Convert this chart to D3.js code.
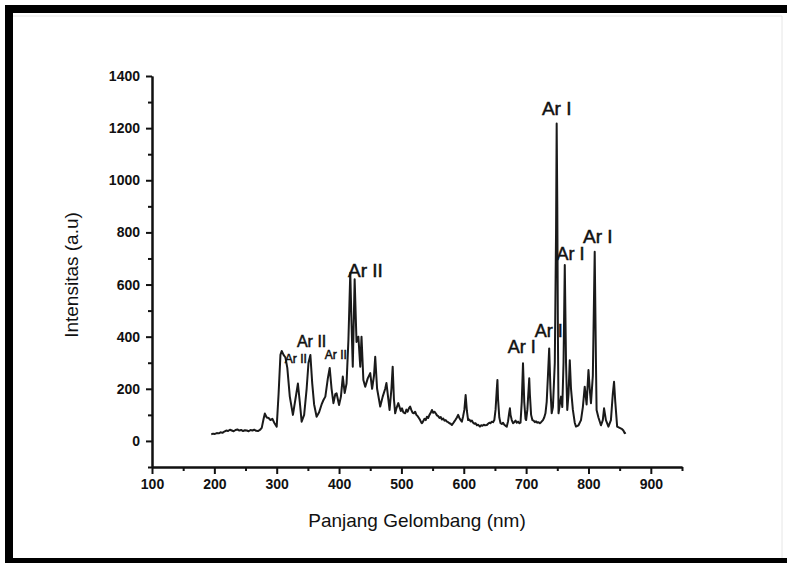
<!DOCTYPE html>
<html>
<head>
<meta charset="utf-8">
<script src="https://cdn.jsdelivr.net/npm/d3@7/dist/d3.min.js"></script>
<style>
  html, body { margin: 0; padding: 0; background: #fff; }
  svg { display: block; }
  text { font-family: Arial, "Liberation Sans", Helvetica, sans-serif; fill: #111; }
</style>
</head>
<body>
<svg id="chart" width="787" height="563"></svg>
<script>
// ---- Data ----
const wavelength = [195,198,201,204,207,210,213,216,219,222,225,228,231,234,237,240,243,246,249,252,255,258,261,264,267,270,273,276,279,281,284,287,290,293,296,300,303,306,308,311,314,317,321,326,330,334,337,340,344,348,351,354,357,360,364,368,372,375,378,382,385,388,391,394,396,400,403,406,409,412,415,418,420,422,425,428,431,434,436,439,442,446,450,453,456,458,461,464,466,470,474,476,479,481,484,486,488,490,492,495,497,499,501,503,506,508,510,512,514,516,518,520,522,524,526,528,530,532,533,535,537,539,541,543,545,547,549,551,553,555,557,559,561,563,565,567,569,571,573,575,577,579,581,583,585,587,589,591,593,595,597,599,601,603,605,607,609,611,613,615,617,619,621,623,626,628,630,632,634,637,639,641,643,645,647,649,651,653,654,655,657,659,661,663,665,667,669,671,673,674,675,677,679,681,683,685,687,689,691,693,695,697,699,700,702,704,705,706,708,710,712,714,716,718,720,722,724,727,729,731,733,735,737,739,741,743,746,748,749,750,751,752,754,756,758,760,762,764,766,768,770,772,775,778,780,784,788,791,794,797,800,802,804,807,810,812,813,816,820,823,825,828,832,836,839,841,843,846,850,854,856,858,860];
const intensity = [25,28,27,30,29,33,31,36,40,38,43,40,37,42,44,40,42,38,41,40,37,42,40,43,39,38,42,50,85,105,90,88,80,85,70,55,180,330,345,330,320,280,170,100,160,220,150,74,100,200,300,330,220,140,93,110,140,157,170,240,280,200,145,180,183,138,170,247,184,220,387,645,450,285,620,380,400,285,400,234,208,240,260,200,250,323,200,160,132,170,200,222,160,119,200,285,160,106,125,145,130,115,125,110,106,120,112,125,132,118,108,106,112,100,95,88,80,70,68,76,85,80,93,88,100,108,119,108,112,106,98,95,88,92,82,86,78,80,74,72,68,66,61,68,75,82,90,100,88,80,74,95,120,176,115,80,82,75,78,70,66,68,60,62,55,60,58,62,60,61,66,70,68,74,72,80,120,200,234,160,90,68,65,70,62,58,55,75,110,125,100,80,68,72,78,70,74,68,70,150,298,150,85,80,120,200,240,180,100,80,78,72,75,70,72,68,72,80,90,106,150,250,355,200,106,130,300,800,1218,900,400,106,140,170,130,300,675,300,119,180,310,200,119,70,55,60,80,130,208,140,272,200,145,250,726,300,119,90,60,80,125,80,55,80,180,227,150,55,50,45,40,30,32];

const xTicks = [100,200,300,400,500,600,700,800,900];
const xMinorTicks = [150,250,350,450,550,650,750,850,950];
const yTicks = [0,200,400,600,800,1000,1200,1400];
const yMinorTicks = [-100,100,300,500,700,900,1100,1300];

const labelText = ["Ar II","Ar II","Ar II","Ar II","Ar I","Ar I","Ar I","Ar I","Ar I"];
const labelNm   = [330.7,356,394.8,442.4,693,736.5,749,771,814.9];
const labelInt  = [299,362,314,630,336,400,1250,694,759];
const labelSize = [12,16,12,19,18,18,19,18,19];

const xTitle = "Panjang Gelombang (nm)";
const yTitle = "Intensitas (a.u)";

// ---- Drawing ----
const svg = d3.select("#chart");
svg.append("rect").attr("width",787).attr("height",563).attr("fill","#fff");

// frame
svg.append("rect").attr("x",5).attr("y",5).attr("width",782).attr("height",8).attr("fill","#000");
svg.append("rect").attr("x",5).attr("y",5).attr("width",8).attr("height",558).attr("fill","#000");
svg.append("rect").attr("x",5).attr("y",558).attr("width",782).attr("height",5).attr("fill","#000");
svg.append("line").attr("x1",13).attr("x2",782).attr("y1",16).attr("y2",16).attr("stroke","#e6e6e6").attr("stroke-width",1);
svg.append("line").attr("x1",782).attr("x2",782).attr("y1",16).attr("y2",558).attr("stroke","#e6e6e6").attr("stroke-width",1);

const x = d3.scaleLinear().domain([100,950]).range([152,682]);
const y = d3.scaleLinear().domain([-100,1400]).range([467,76]);

const axisColor = "#111";

// x axis
const gx = svg.append("g").attr("transform","translate(0,467)");
gx.call(d3.axisBottom(x).tickValues(xTicks).tickSize(7).tickSizeOuter(0).tickPadding(5).tickFormat(d3.format("d")));
gx.append("g").call(d3.axisBottom(x).tickValues(xMinorTicks).tickSize(4).tickSizeOuter(0).tickFormat(""));
// y axis
const gy = svg.append("g").attr("transform","translate(152,0)");
gy.call(d3.axisLeft(y).tickValues(yTicks).tickSize(6).tickSizeOuter(0).tickPadding(6).tickFormat(d3.format("d")));
gy.append("g").call(d3.axisLeft(y).tickValues(yMinorTicks).tickSize(4).tickSizeOuter(0).tickFormat(""));

svg.selectAll(".domain").attr("stroke",axisColor).attr("stroke-width",2);
svg.selectAll(".tick line").attr("stroke",axisColor).attr("stroke-width",2);
svg.selectAll(".tick text").attr("font-size",14).attr("font-weight","bold")
  .attr("font-family","Arial, 'Liberation Sans', sans-serif").attr("fill","#111");

// line
const data = wavelength.map((w,i)=>({w, v: intensity[i]}));
svg.append("path").datum(data)
  .attr("fill","none").attr("stroke","#1a1a1a").attr("stroke-width",2)
  .attr("stroke-linejoin","round")
  .attr("d", d3.line().x(d=>x(d.w)).y(d=>y(d.v)));

// peak labels
svg.append("g").selectAll("text").data(labelText).join("text")
  .attr("x",(d,i)=>x(labelNm[i])).attr("y",(d,i)=>y(labelInt[i]))
  .attr("text-anchor","middle").attr("font-size",(d,i)=>labelSize[i])
  .attr("stroke","#111").attr("stroke-width",0.5)
  .text(d=>d);

// titles
svg.append("text").attr("x",417).attr("y",527).attr("text-anchor","middle")
  .attr("font-size",19).text(xTitle);
svg.append("text").attr("transform","translate(78,275) rotate(-90)").attr("text-anchor","middle")
  .attr("font-size",19).text(yTitle);
</script>
</body>
</html>
